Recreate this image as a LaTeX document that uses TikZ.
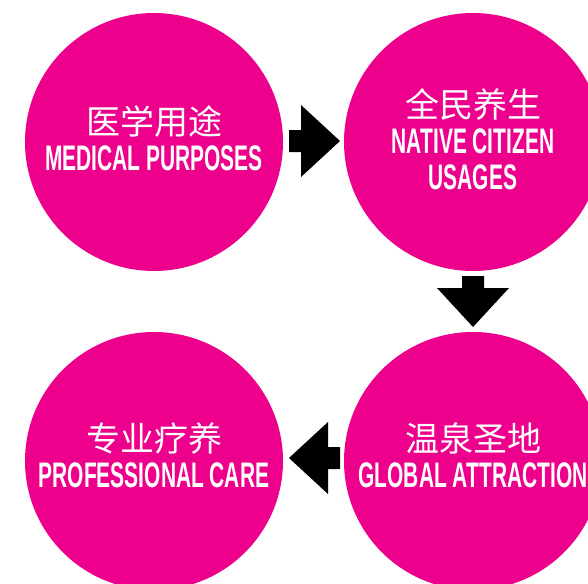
\documentclass[tikz,border=0pt]{standalone}
\usepackage{fontspec}
\setmainfont{Liberation Sans}
\newfontfamily\cjk{Noto Sans CJK SC}
\usetikzlibrary{calc}
\definecolor{spamagenta}{HTML}{EC008C}
\newcommand\eng[1]{\scalebox{0.59}[1]{\bfseries #1}}
\newcommand\zh[1]{{\cjk\fontsize{34}{36}\selectfont #1}}
\tikzset{
	bubble/.style={circle,fill=spamagenta,minimum size=258pt,inner sep=0pt},
	bubbletext/.style={text=white,align=center,inner sep=0pt,font=\fontsize{35.5}{36}\selectfont},
}

\begin{document}
\begin{tikzpicture}[x=1pt,y=-1pt]
\useasboundingbox (0,0) rectangle (588,583);
\clip (0,0) rectangle (588,583);

% the four circles
\node[bubble] (med) at (154,142) {};
\node[bubble] (nat) at (473,142) {};
\node[bubble] (glob) at (473,461) {};
\node[bubble] (prof) at (154,461) {};

\node[bubbletext] (medtxt) at ($(med)+(0,-4)$) {\zh{医学用途}\\\eng{MEDICAL PURPOSES}};
\node[bubbletext] (nattxt) at ($(nat)+(0,-3)$) {\zh{全民养生}\\\eng{NATIVE CITIZEN}\\\eng{USAGES}};
\node[bubbletext] (globtxt) at ($(glob)+(0,-6)$) {\zh{温泉圣地}\\\eng{GLOBAL ATTRACTION}};
\node[bubbletext] (proftxt) at ($(prof)+(0,-6)$) {\zh{专业疗养}\\\eng{PROFESSIONAL CARE}};

% block arrows between them
\coordinate (a1) at ($(med.east)!0.5!(nat.west)+(1,-1)$);
\coordinate (a2) at ($(nat.south)!0.5!(glob.north)$);
\coordinate (a3) at ($(glob.west)!0.5!(prof.east)+(1,-3)$);
\foreach \at/\ang in {a1/0,a2/-90,a3/180} {
	\fill[black,shift={(\at)},rotate=\ang] (-25.5,-11) -- (-13.5,-11) -- (-13.5,-36) -- (25.5,0)
		-- (-13.5,36) -- (-13.5,11) -- (-25.5,11) -- cycle;
}
\end{tikzpicture}
\end{document}
